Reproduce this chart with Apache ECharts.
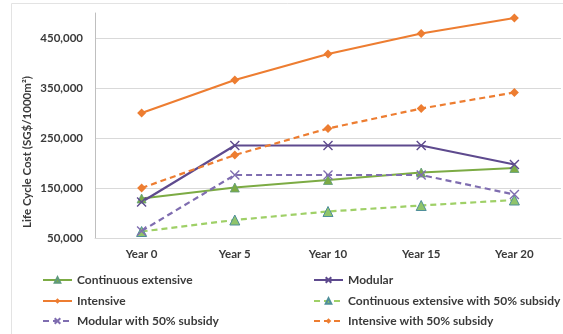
<!DOCTYPE html>
<html>
<head>
<meta charset="utf-8">
<script src="https://cdn.jsdelivr.net/npm/echarts@6/dist/echarts.min.js"></script>
<style>
  html, body { margin: 0; padding: 0; background: #fff; }
  #chart { width: 563px; height: 334px; }
</style>
</head>
<body>
<div id="chart"></div>
<script>
// Life cycle cost per 1000 m² of green roof, by system type
const years = ['Year 0', 'Year 5', 'Year 10', 'Year 15', 'Year 20'];
const continuousExtensive = [129000, 151000, 166000, 181000, 190000];
const modular = [122000, 235000, 235000, 235000, 197000];
const intensive = [300000, 366000, 418000, 459000, 490000];
const continuousExtensiveSubsidy = [63000, 86000, 103000, 115000, 126000];
const modularSubsidy = [64000, 176000, 176000, 176000, 137000];
const intensiveSubsidy = [150000, 216000, 269000, 309000, 341000];

const FONT = 'Lato';
const TEXT = '#3a3a3a';
const xMark = 'path://M0,0L10,10M10,0L0,10';

function lineSeries(name, data, color, dashed, symbol, size, extra) {
  return Object.assign({
    name: name,
    type: 'line',
    data: data,
    symbol: symbol,
    symbolSize: size,
    showSymbol: true,
    lineStyle: { color: color, width: 2.2, type: dashed ? [6, 4] : 'solid' },
    itemStyle: { color: color },
    emphasis: { disabled: true },
    animation: false
  }, extra || {});
}

const green = '#7cab44';
const orange = '#ed7d31';
const purple = '#5e4a8e';
const lightGreen = '#9fd067';
const lightPurple = '#7f6db0';

const series = [
  lineSeries('Continuous extensive', continuousExtensive, green, false, 'triangle', 9,
    { itemStyle: { color: green, borderColor: '#5f9a7c', borderWidth: 0.8 } }),
  lineSeries('Modular', modular, purple, false, xMark, 9,
    { itemStyle: { color: 'none', borderColor: purple, borderWidth: 1.4 } }),
  lineSeries('Intensive', intensive, orange, false, 'diamond', 9),
  lineSeries('Continuous extensive with 50% subsidy', continuousExtensiveSubsidy, lightGreen, true, 'triangle', 10,
    { itemStyle: { color: '#8fc46a', borderColor: '#4f8f9a', borderWidth: 1 } }),
  lineSeries('Modular with 50% subsidy', modularSubsidy, lightPurple, true, xMark, 9,
    { itemStyle: { color: 'none', borderColor: lightPurple, borderWidth: 1.4 } }),
  lineSeries('Intensive with 50% subsidy', intensiveSubsidy, orange, true, 'diamond', 9)
];

const legendText = { fontFamily: FONT, fontSize: 12, fontWeight: 'bold', color: TEXT };

// two columns, three rows of legend entries
const legendLayout = [
  ['Continuous extensive', 42, 274],
  ['Modular', 313, 274],
  ['Intensive', 42, 295],
  ['Continuous extensive with 50% subsidy', 313, 295],
  ['Modular with 50% subsidy', 42, 315],
  ['Intensive with 50% subsidy', 313, 315]
];
const legends = legendLayout.map(([name, left, top]) => ({
  left: left, top: top, itemWidth: 29, itemHeight: 7, itemGap: 0,
  padding: 0,
  textStyle: legendText,
  data: [name]
}));

const option = {
  backgroundColor: '#ffffff',
  animation: false,
  grid: { left: 95, right: 2, top: 13, bottom: 96 },
  xAxis: {
    type: 'category',
    data: years,
    boundaryGap: true,
    axisLine: { show: true, lineStyle: { color: '#d9d9d9', width: 1 } },
    axisTick: { show: false },
    axisLabel: { fontFamily: FONT, fontSize: 11.5, fontWeight: 'bold', color: TEXT, margin: 10 }
  },
  yAxis: {
    type: 'value',
    min: 50000,
    max: 500000,
    interval: 100000,
    axisLine: { show: true, lineStyle: { color: '#bfbfbf', width: 1 } },
    axisTick: { show: false },
    axisLabel: {
      fontFamily: FONT, fontSize: 11.5, fontWeight: 'bold', color: TEXT, margin: 12,
      showMaxLabel: false,
      formatter: v => v.toLocaleString('en-US')
    },
    splitLine: {
      show: true,
      lineStyle: { color: ['#d9d9d9', '#d9d9d9', '#d9d9d9', '#d9d9d9', '#d9d9d9', 'rgba(0,0,0,0)'], width: 1 }
    }
  },
  legend: legends,
  graphic: [
    {
      type: 'rect', left: 9, top: 1, silent: true,
      shape: { width: 553, height: 332 },
      style: { fill: 'none', stroke: '#e3e3e3', lineWidth: 1 }
    },
    {
      type: 'text', x: 27, y: 152, rotation: Math.PI / 2, silent: true,
      style: {
        text: 'Life Cycle Cost (SG$/1000m²)',
        fontFamily: FONT, fontSize: 11.5, fontWeight: 'bold', fill: TEXT,
        align: 'center', verticalAlign: 'middle'
      }
    }
  ],
  series: series
};

const chart = echarts.init(document.getElementById('chart'), null, { renderer: 'canvas' });
chart.setOption(option);
</script>
</body>
</html>
